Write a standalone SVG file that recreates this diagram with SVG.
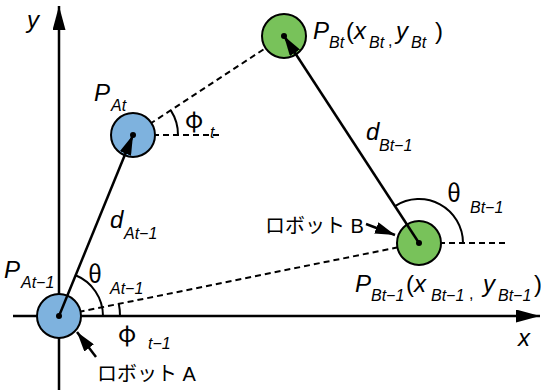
<svg xmlns="http://www.w3.org/2000/svg" width="541" height="390" viewBox="0 0 541 390">
<style>
.ax{stroke:#000;stroke-width:2.5;fill:none}
.sol{stroke:#000;stroke-width:2.5;fill:none}
.dash{stroke:#000;stroke-width:2;fill:none;stroke-dasharray:6 4}
.arc{stroke:#000;stroke-width:2;fill:none}
.rb{fill:#7eb2de;stroke:#000;stroke-width:2}
.rg{fill:#78c25a;stroke:#000;stroke-width:2}
.dot{fill:#000}
.v{font-family:"Liberation Sans",Arial,sans-serif;font-style:italic;font-size:24px;fill:#000}
.s{font-size:16px}
.u{font-style:normal;font-family:"Liberation Sans",Arial,sans-serif}
.g{font-family:"Noto Sans CJK JP","DejaVu Sans",sans-serif;font-style:normal;font-size:24px;fill:#000}
.jp{font-family:"Liberation Sans","Noto Sans CJK JP",sans-serif;font-size:20px;fill:#000}
</style>
<defs>
<marker id="ax" viewBox="0 0 10 10" refX="10" refY="5" markerWidth="24" markerHeight="13" markerUnits="userSpaceOnUse" orient="auto" preserveAspectRatio="none">
<path d="M0,0 L10,5 L0,10 z" fill="#000"/>
</marker>
<marker id="ap" viewBox="0 0 10 10" refX="10" refY="5" markerWidth="20" markerHeight="12" markerUnits="userSpaceOnUse" orient="auto" preserveAspectRatio="none">
<path d="M0,0 L10,5 L0,10 z" fill="#000"/>
</marker>
</defs>
<g id="axes">
<line class="ax" x1="59" y1="390" x2="59" y2="6" marker-end="url(#ax)"/>
<line class="ax" x1="13" y1="316" x2="540" y2="316" marker-end="url(#ax)"/>
<text class="v" x="27" y="28">y</text>
<text class="v" x="518" y="346">x</text>
</g>
<g id="connectors">
<line class="dash" x1="59" y1="316" x2="419" y2="243"/>
<line class="dash" x1="133" y1="135" x2="284" y2="36"/>
<line class="dash" x1="133" y1="135" x2="220" y2="135"/>
<line class="dash" x1="419" y1="243" x2="506" y2="243"/>
</g>
<g id="robotA">
<circle class="rb" cx="59" cy="316" r="22"/>
<circle class="dot" cx="59" cy="316" r="3"/>
</g>
<g id="robotAt">
<circle class="rb" cx="133" cy="135" r="22"/>
<circle class="dot" cx="133" cy="135" r="3"/>
</g>
<g id="robotBt">
<circle class="rg" cx="284" cy="36" r="22"/>
<circle class="dot" cx="284" cy="36" r="3"/>
</g>
<g id="robotB">
<circle class="rg" cx="419" cy="243" r="22"/>
<circle class="dot" cx="419" cy="243" r="3"/>
</g>
<g id="motion">
<line class="sol" x1="59" y1="316" x2="133" y2="135" marker-end="url(#ap)"/>
<line class="sol" x1="419" y1="243" x2="284" y2="36" marker-end="url(#ap)"/>
</g>
<g id="angles">
<path class="arc" d="M178,135 A45,45 0 0 0 170.8,110.4"/>
<path class="arc" d="M103,316 A44,44 0 0 0 75.6,275.3"/>
<path class="arc" d="M120,316 A61,61 0 0 0 118.8,303.8"/>
<path class="arc" d="M463,243 A44,44 0 0 0 395,206.1"/>
</g>
<g id="labels">
<text class="v" x="94" y="101">P<tspan class="s" x="111" y="111">At</tspan></text>
<text class="g" x="185" y="128">φ</text>
<text class="v s" x="210" y="138">t</text>
<text class="v" x="313" y="39">P<tspan class="s" x="329" y="48">Bt</tspan><tspan class="u" x="346" y="39">(</tspan><tspan x="354" y="39">x</tspan><tspan class="s" x="369" y="48">Bt</tspan><tspan class="s u" x="388" y="46">,</tspan><tspan x="396" y="39">y</tspan><tspan class="s" x="411" y="48">Bt</tspan><tspan class="u" x="435" y="39">)</tspan></text>
<text class="v" x="366" y="140">d<tspan class="s" x="379" y="151">Bt−1</tspan></text>
<text class="g" x="447" y="202">θ</text>
<text class="v s" x="470" y="213">Bt−1</text>
<text class="jp" x="265" y="233">ロボット B</text>
<text class="v" x="355" y="292">P<tspan class="s" x="371" y="301">Bt−1</tspan><tspan class="u" x="406" y="292">(</tspan><tspan x="414" y="292">x</tspan><tspan class="s" x="431" y="301">Bt−1</tspan><tspan class="s u" x="469" y="299">,</tspan><tspan x="483" y="292">y</tspan><tspan class="s" x="498" y="301">Bt−1</tspan><tspan class="u" x="534" y="292">)</tspan></text>
<text class="v" x="110" y="228">d<tspan class="s" x="124" y="239">At−1</tspan></text>
<text class="v" x="4" y="278">P<tspan class="s" x="21" y="288">At−1</tspan></text>
<text class="g" x="88" y="283">θ</text>
<text class="v s" x="110" y="294">At−1</text>
<text class="g" x="118" y="342">φ</text>
<text class="v s" x="148" y="349">t−1</text>
<text class="jp" x="97" y="381">ロボット A</text>
</g>
<g id="pointers">
<line class="sol" x1="366" y1="224" x2="395" y2="235" marker-end="url(#ap)"/>
<line class="sol" x1="96" y1="357" x2="77" y2="332" marker-end="url(#ap)"/>
</g>
</svg>
